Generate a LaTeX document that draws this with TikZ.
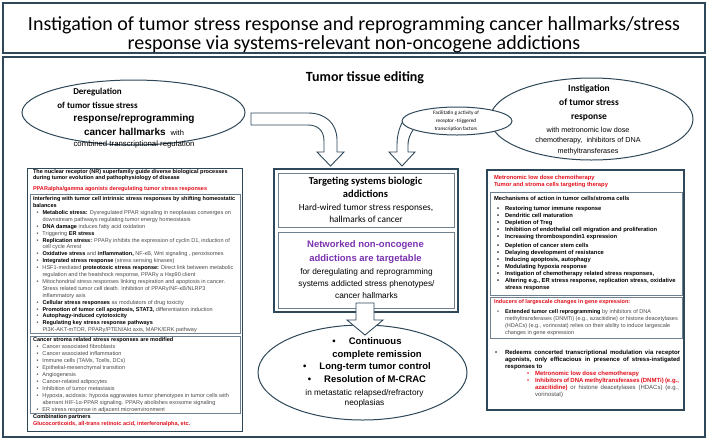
\documentclass[tikz,border=0pt]{standalone}
\usepackage{fontspec}
\setmainfont{Carlito}
\newfontfamily\arialf{Liberation Sans}
\usetikzlibrary{shapes.geometric}
\definecolor{framec}{HTML}{2F4859}
\definecolor{innerc}{HTML}{6F808E}
\definecolor{redc}{HTML}{E3101C}
\definecolor{purpc}{HTML}{7B32B0}
\definecolor{grayc}{HTML}{4A4A4A}
\newcommand{\fs}[2]{\fontsize{#1}{#2}\selectfont}
\newcommand{\bk}[1]{\textcolor{black}{\bfseries #1}}
\newcommand{\rd}[1]{\textcolor{redc}{\bfseries #1}}
\newcommand{\lbul}{\hspace*{3.5pt}\makebox[6pt][l]{\textbullet}}
\newcommand{\lind}{\hspace*{9.5pt}}
\newcommand{\rbul}{\hspace*{3pt}\makebox[8pt][l]{\textbullet}}
\newcommand{\rind}{\hspace*{11pt}}
\begin{document}
\begin{tikzpicture}[x=1pt,y=-1pt,
  boxo/.style={draw=framec, line width=1.1pt},
  boxi/.style={draw=innerc, line width=0.7pt},
  barrow/.style={draw=framec, line width=0.9pt, fill=white, line join=miter},
  ell/.style={ellipse, draw=framec, line width=1pt, fill=white, inner sep=0pt, outer sep=0pt},
  txt/.style={inner sep=0pt, outer sep=0pt},
  small/.style={txt, align=left, font=\arialf\fs{5.55}{6.9}, text=grayc, anchor=north west},
  rsmall/.style={txt, align=left, font=\arialf\fs{5.8}{6.9}, text=grayc, anchor=north west},
]
\useasboundingbox (0,0) rectangle (708,440);
\fill[white] (0,0) rectangle (708,440);
% frames
\draw[boxo] (3,3) rectangle (705,53);
\draw[boxo] (3,57) rectangle (705,437);
\node[txt, align=center, font=\fs{20}{19}] (title) at (354,35) {Instigation of tumor stress response and reprogramming cancer hallmarks/stress\\response via systems-relevant non-oncogene addictions};
\node[txt, anchor=base, font=\bfseries\fs{14}{14}] (tte) at (365,81.2) {Tumor tissue editing};

% left ellipse
\node[ell, minimum width=223pt, minimum height=65pt] (lell) at (133.5,112.5) {};
\node[txt, anchor=north, align=center, font=\bfseries\fs{9}{14}] (ld1) at (97.5,88) {Deregulation\\of tumor tissue stress};
\node[txt, anchor=north, align=center, font=\arialf\bfseries\fs{10}{14}] (ld2) at (134,114.5) {response/reprogramming\\cancer hallmarks {\mdseries\fs{7.5}{14} with}};
\node[txt, anchor=north, font=\arialf\fs{7.8}{10}] (ld3) at (134,140.5) {combined transcriptional regulation};

% left bent arrow
\draw[barrow] (251,113) -- (308,113) .. controls (326,113) and (337,124) .. (337,140) -- (337,152) -- (344,152) -- (330.5,166) -- (317,152) -- (324,152) -- (324,141) .. controls (324,131) and (318,125) .. (308,125) -- (251,125) -- cycle;

% right ellipse
\node[ell, minimum width=203pt, minimum height=82pt] (rell) at (591.5,119) {};
\node[txt, anchor=north, align=center, font=\bfseries\fs{9.5}{14}] (rt1) at (589,84.7) {Instigation\\of tumor stress\\response};
\node[txt, anchor=north, align=center, font=\arialf\fs{7.2}{10.5}] (rt2) at (588,126.8) {with metronomic low dose\\chemotherapy, \ inhibitors of DNA\\methyltransferases};

% right bent arrow
\draw[barrow] (420,121) .. controls (412,130) and (408,137) .. (408,145) -- (408,152) -- (415,152) -- (402,166) -- (389,152) -- (397,152) -- (397,145) .. controls (397,136) and (399,128) .. (403,121) -- cycle;
\node[ell, minimum width=110pt, minimum height=28pt] (sell) at (457,121) {};
\node[txt, anchor=north, align=center, font=\fs{5.2}{8}] (st) at (456,110.8) {Facilitatin g activity of\\receptor -triggered\\transcription factors};

% center box
\draw[boxo] (274,169) rectangle (458,312);
\draw[boxi] (278,173) rectangle (454,227);
\draw[boxi] (278,232) rectangle (454,308);
\node[txt, anchor=north, align=center, font=\bfseries\fs{10.5}{13}] (c1) at (365.5,177.3) {Targeting systems biologic\\addictions};
\node[txt, anchor=north, align=center, font=\fs{9.3}{12}] (c2) at (366,203.8) {Hard-wired tumor stress responses,\\hallmarks of cancer};
\node[txt, anchor=north, align=center, font=\arialf\bfseries\fs{9.5}{14}, text=purpc] (c3) at (365.5,240.7) {Networked non-oncogene\\addictions are targetable};
\node[txt, anchor=north, align=center, font=\arialf\fs{8.3}{12}] (c4) at (366.5,268.3) {for deregulating and reprogramming\\systems addicted stress phenotypes/\\cancer hallmarks};

% bottom ellipse
\node[ell, minimum width=209pt, minimum height=95pt] (bell) at (362.5,372.5) {};
\draw[barrow] (356,303) -- (374,303) -- (374,320) -- (383,320) -- (365,335) -- (347,320) -- (356,320) -- cycle;
\node[txt, anchor=north, align=center, font=\arialf\bfseries\fs{9.5}{12.7}] (b1) at (367,337.7) {\textbullet\hspace{13pt}Continuous\\\hspace*{20pt}complete remission\\\textbullet\hspace{13pt}Long-term tumor control\\\textbullet\hspace{13pt}Resolution of M-CRAC};
\node[txt, anchor=north, align=center, font=\arialf\fs{8.3}{10.5}] (b2) at (364.5,389.3) {in metastatic relapsed/refractory\\neoplasias};

% left box
\draw[boxo, line width=1pt] (27,168) rectangle (242,431);
\draw[boxi] (30,194) rectangle (240,333);
\draw[boxi] (30,336) rectangle (240,413);
\node[small, text=black, font=\arialf\bfseries\fs{5.55}{6.2}] (la) at (33,169.6) {The nuclear receptor (NR) superfamily guide diverse biological processes\\during tumor evolution and pathophysiology of disease};
\node[small, text=redc, font=\arialf\bfseries\fs{5.55}{6.9}] (lb) at (33,186.6) {PPARalpha/gamma agonists deregulating tumor stress responses};
\node[small] (lc) at (33,196.6) {\bk{Interfering with tumor cell intrinsic stress responses by shifting homeostatic}\\
\bk{balances}\\
\lbul\bk{Metabolic stress:} Dysregulated PPAR signaling in neoplasias converges on\\
\lind downstream pathways regulating tumor energy homeostasis\\
\lbul\bk{DNA damage} induces fatty acid oxidation\\
\lbul Triggering \bk{ER stress}\\
\lbul\bk{Replication stress:} PPARγ inhibits the expression of cyclin D1, induction of\\
\lind cell cycle Arrest\\
\lbul\bk{Oxidative stress} and \bk{inflammation,} NF-κB, Wnt signaling , peroxisomes\\
\lbul\bk{Integrated stress response} (stress sensing kinases)\\
\lbul HSF1-mediated \bk{proteotoxic stress response:} Direct link between metabolic\\
\lind regulation and the heatshock response, PPARγ a Hsp90 client\\
\lbul Mitochondrial stress responses linking respiration and apoptosis in cancer.\\
\lind Stress related tumor cell death. Inhibition of PPARγ/NF-κB/NLRP3\\
\lind inflammatory axis\\
\lbul\bk{Cellular stress responses} as modulators of drug toxicity\\
\lbul\bk{Promotion of tumor cell apoptosis, STAT3,} differentiation induction\\
\lbul\bk{Autophagy-induced cytotoxicity}\\
\lbul\bk{Regulating key stress response pathways}\\
\lind PI3K-AKT-mTOR, PPARγ/PTEN/Akt axis, MAPK/ERK pathway};
\node[small, font=\arialf\fs{5.55}{7}] (ld) at (33,337.6) {\bk{Cancer stroma related stress responses are modified}\\
\lbul Cancer associated fibroblasts\\
\lbul Cancer associated inflammation\\
\lbul Immune cells (TAMs, Tcells, DCs)\\
\lbul Epithelial-mesenchymal transition\\
\lbul Angiogenesis\\
\lbul Cancer-related adipocytes\\
\lbul Inhibition of tumor metastasis\\
\lbul Hypoxia, acidosis: hypoxia aggravates tumor phenotypes in tumor cells with\\
\lind aberrant HIF-1α-PPAR signaling. PPARγ abolishes exosome signaling\\
\lbul ER stress response in adjacent microenvironment};
\node[small] (le) at (33,414.6) {\bk{Combination partners}\\\rd{Glucocorticoids, all-trans retinoic acid, interferonalpha, etc.}};

% right box
\draw[boxo, line width=1.4pt] (487,170) rectangle (684,410);
\draw[boxi] (490,192) rectangle (682,295);
\draw[boxi] (490,297) rectangle (682,338);
\node[rsmall, font=\arialf\fs{5.8}{7}] (ra) at (494,175.4) {\rd{Metronomic low dose chemotherapy}\\\rd{Tumor and stroma cells targeting therapy}};
\node[rsmall, text=black, font=\arialf\bfseries\fs{5.8}{6.9}] (rb) at (494,196.4) {Mechanisms of action in tumor cells/stroma cells\\[3.1pt]
\rbul Restoring tumor immune response\\
\rbul Dendritic cell maturation\\
\rbul Depletion of Treg\\
\rbul Inhibition of endothelial cell migration and proliferation\\
\rbul Increasing thrombospondin1 expression\\[2.5pt]
\rbul Depletion of cancer stem cells\\
\rbul Delaying development of resistance\\
\rbul Inducing apoptosis, autophagy\\
\rbul Modulating hypoxia response\\
\rbul Instigation of chemotherapy related stress responses,\\
\rbul Altering e.g., ER stress response, replication stress, oxidative\\
\rind stress response};
\node[rsmall, font=\arialf\fs{5.55}{6.9}] (rc) at (494,299.5) {\rd{Inducers of largescale changes in gene expression:}\\[3.1pt]
\rbul\bk{Extended tumor cell reprogramming} by inhibitors of DNA\\
\rind methyltransferases (DNMTi) (e.g., azacitidine) or histone deacetylases\\
\rind (HDACs) (e.g., vorinostat) relies on their ability to induce largescale\\
\rind changes in gene expression};
\node[rsmall, font=\arialf\fs{6}{7}] (rdn) at (495,350.4) {\makebox[10pt][l]{\textcolor{black}{\textbullet}}\makebox[175pt][s]{\bk{Redeems concerted transcriptional modulation via receptor}}\\
\hspace*{10pt}\makebox[175pt][s]{\bk{agonists, only efficacious in presence of stress-instigated}}\\
\hspace*{10pt}\bk{responses to}\\
\hspace*{32pt}\makebox[8pt][l]{\textcolor{redc}{\textbullet}}\rd{Metronomic low dose chemotherapy}\\
\hspace*{32pt}\makebox[8pt][l]{\textcolor{redc}{\textbullet}}\makebox[144pt][s]{\rd{Inhibitors of DNA methyltransferases (DNMTi) (e.g.,}}\\
\hspace*{40pt}\makebox[144pt][s]{\rd{azacitidine)} or histone deacetylases (HDACs) (e.g.,}\\
\hspace*{40pt}vorinostat)};
\end{tikzpicture}
\end{document}
